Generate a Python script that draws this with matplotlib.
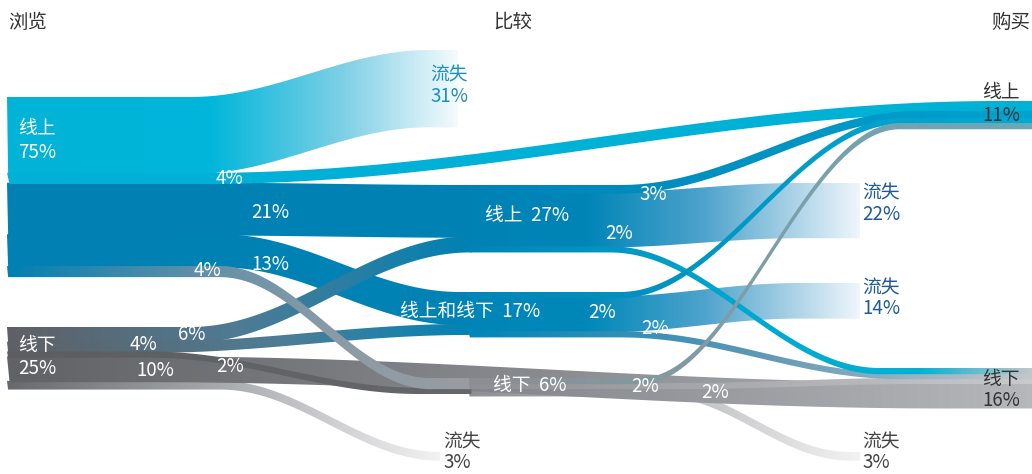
import numpy as np
import matplotlib.pyplot as plt
from matplotlib.path import Path
from matplotlib.patches import PathPatch
from matplotlib.colors import LinearSegmentedColormap

plt.rcParams['font.family'] = ['Noto Sans CJK SC', 'DejaVu Sans']

# ---- data ----
stages = ['浏览', '比较', '购买']
browse_labels = ['线上', '线下']
browse_share = [75, 25]
compare_labels = ['线上', '线上和线下', '线下']
compare_share = [27, 17, 6]
buy_labels = ['线上', '线下']
buy_share = [11, 16]
lost_browse = [31, 3]
lost_compare = [22, 14, 3]

# flows: B=浏览, C=比较, P=购买, L=流失(浏览后), M=流失(比较后)
flow_src = ['B0', 'B0', 'B0', 'B0', 'B0', 'B1', 'B1', 'B1', 'B1', 'B1',
            'C0', 'C0', 'C0', 'C1', 'C1', 'C1', 'C2', 'C2', 'C2']
flow_dst = ['L0', 'P0', 'C0', 'C1', 'C2', 'C0', 'C1', 'C2', 'P1', 'L1',
            'P0', 'M0', 'P1', 'P0', 'M1', 'P1', 'P0', 'P1', 'M2']
flow_val = [31, 4, 21, 13, 4, 6, 4, 2, 10, 3,
            3, 22, 2, 2, 14, 2, 2, 2, 3]

# ---- layout ----
k = 2.45  # px per percent
node_x = {'B0': 7, 'B1': 7, 'C0': 470, 'C1': 470, 'C2': 470,
          'P0': 1032, 'P1': 1032, 'L0': 458, 'L1': 440,
          'M0': 860, 'M1': 860, 'M2': 860}
node_top = {'B0': 97, 'B1': 327, 'C0': 185, 'C1': 292, 'C2': 378,
            'P0': 101, 'P1': 368, 'L0': 50, 'L1': 452,
            'M0': 183, 'M1': 283, 'M2': 452}
in_order = {'P0': [1, 10, 13, 16], 'P1': [12, 15, 17, 8]}

bends = [(190, 430), (200, 1000), (200, 470), (220, 460), (220, 430),
         (190, 470), (150, 470), (150, 420), (150, 950), (220, 440),
         (620, 920), (600, 800), (610, 880), (620, 900), (600, 800),
         (620, 900), (640, 900), (680, 920), (660, 850)]

stops = [
    [(0, '#00b3d7'), (0.45, '#00b6da'), (0.75, '#80d0e6'), (1, '#f4fbfd')],
    [(0, '#00b0d6'), (1, '#00b2d6')],
    [(0, '#0080b3'), (1, '#0082b4')],
    [(0, '#0080b3'), (1, '#0083b5')],
    [(0, '#0080b3'), (0.4, '#5f8fa8'), (0.7, '#8a9ba6'), (1, '#9a9ca1')],
    [(0, '#5f6065'), (0.5, '#4e7b94'), (1, '#0081b4')],
    [(0, '#5f6065'), (0.6, '#4e7d96'), (1, '#0084b6')],
    [(0, '#5d5d61'), (1, '#66676b')],
    [(0, '#616266'), (0.5, '#88898e'), (1, '#b6b7bb')],
    [(0, '#68696d'), (0.5, '#a9aaae'), (1, '#f2f2f3')],
    [(0, '#0082b5'), (1, '#00a3cf')],
    [(0, '#0082b5'), (0.3, '#0085b7'), (0.6, '#4ea3cc'), (1, '#f0f6fb')],
    [(0, '#0084b6'), (0.5, '#00a8d0'), (0.8, '#00b2d3'), (1, '#c3c7ca')],
    [(0, '#0086b8'), (1, '#00acd4')],
    [(0, '#0085b7'), (0.3, '#0088b9'), (0.6, '#4ea3cc'), (1, '#f0f6fb')],
    [(0, '#0086b8'), (0.5, '#5b97b5'), (1, '#c5c7ca')],
    [(0, '#8c8d92'), (0.5, '#7f9ea8'), (1, '#69a9ba')],
    [(0, '#8e8f94'), (1, '#c9cacd')],
    [(0, '#8e8f94'), (0.5, '#b9babd'), (1, '#f3f3f3')],
]

draw_order = [0, 9, 11, 14, 18, 8, 2, 3, 1, 10, 5, 6, 7, 4, 17, 15, 12, 13, 16]

# stack flows in nodes
y_out, y_in = {}, {}
for node in set(flow_src):
    y = node_top[node]
    for i, s in enumerate(flow_src):
        if s == node:
            y_out[i] = y
            y += flow_val[i] * k
for node in set(flow_dst):
    idxs = in_order.get(node, [i for i, d in enumerate(flow_dst) if d == node])
    y = node_top[node]
    for i in idxs:
        y_in[i] = y
        y += flow_val[i] * k

fig = plt.figure(figsize=(10.32, 4.74), dpi=100)
ax = fig.add_axes([0, 0, 1, 1])

for i in draw_order:
    x0, x1 = node_x[flow_src[i]], node_x[flow_dst[i]]
    # small overlap so neighbouring bands don't leave hairline gaps
    if flow_src[i][0] == 'C':
        x0 -= 1.5
    if flow_dst[i][0] == 'C':
        x1 += 1.5
    xa, xb = bends[i]
    xs = np.linspace(x0, x1, 400)
    t = np.clip((xs - xa) / (xb - xa), 0, 1)
    s = (1 - np.cos(np.pi * t)) / 2
    top = y_out[i] + (y_in[i] - y_out[i]) * s
    bot = top + flow_val[i] * k + 1.3
    verts = np.vstack([np.column_stack([xs, top]),
                       np.column_stack([xs[::-1], bot[::-1]])])
    patch = PathPatch(Path(verts, closed=True), facecolor='none',
                      edgecolor='none')
    ax.add_patch(patch)
    cmap = LinearSegmentedColormap.from_list('f%d' % i, stops[i])
    grad = np.linspace(0, 1, 256).reshape(1, -1)
    im = ax.imshow(grad, cmap=cmap, aspect='auto', interpolation='bilinear',
                   extent=(x0, x1, bot.max() + 1, top.min() - 1))
    im.set_clip_path(patch)

ax.set_xlim(0, 1032)
ax.set_ylim(474, 0)
ax.axis('off')

fs = 13.5
# headers
ax.text(8, 22, stages[0], fontsize=14, color='#333333', ha='left', va='center')
ax.text(513, 22, stages[1], fontsize=14, color='#333333', ha='center', va='center')
ax.text(1030, 22, stages[2], fontsize=14, color='#333333', ha='right', va='center')

# browse nodes
ax.text(18, 128, browse_labels[0], fontsize=fs, color='white', va='center')
ax.text(18, 152, f'{browse_share[0]}%', fontsize=fs, color='white', va='center')
ax.text(18, 346, browse_labels[1], fontsize=fs, color='white', va='center')
ax.text(18, 369, f'{browse_share[1]}%', fontsize=fs, color='white', va='center')

# compare nodes
ax.text(527, 216, f'{compare_labels[0]}  {compare_share[0]}%', fontsize=fs,
        color='white', ha='center', va='center')
ax.text(470, 312, f'{compare_labels[1]}  {compare_share[1]}%', fontsize=fs,
        color='white', ha='center', va='center')
ax.text(530, 385, f'{compare_labels[2]}  {compare_share[2]}%', fontsize=fs,
        color='white', ha='center', va='center')

# buy nodes
ax.text(1020, 92, buy_labels[0], fontsize=fs, color='#333333', ha='right', va='center')
ax.text(1020, 115, f'{buy_share[0]}%', fontsize=fs, color='#333333', ha='right', va='center')
ax.text(1020, 380, buy_labels[1], fontsize=fs, color='#333333', ha='right', va='center')
ax.text(1020, 401, f'{buy_share[1]}%', fontsize=fs, color='#333333', ha='right', va='center')

# lost labels
lost_pos = [(430, 75, '#1e8fc3'), (443, 442, '#444444')]
for (x, y, c), v in zip(lost_pos, lost_browse):
    ax.text(x, y, '流失', fontsize=fs, color=c, va='center')
    ax.text(x, y + 21, f'{v}%', fontsize=fs, color=c, va='center')
lost_pos2 = [(862, 193, '#1d5a9a'), (862, 288, '#1d5a9a'), (862, 442, '#444444')]
for (x, y, c), v in zip(lost_pos2, lost_compare):
    ax.text(x, y, '流失', fontsize=fs, color=c, va='center')
    ax.text(x, y + 21, f'{v}%', fontsize=fs, color=c, va='center')

# flow value labels
flow_label_pos = {1: (230, 178), 2: (270, 212), 3: (270, 265), 4: (208, 271),
                  5: (192, 335), 6: (143, 345), 8: (155, 370), 7: (230, 366),
                  10: (653, 194), 12: (619, 233), 13: (602, 312),
                  15: (655, 328), 16: (645, 387), 17: (715, 393)}
for i, (x, y) in flow_label_pos.items():
    ax.text(x, y, f'{flow_val[i]}%', fontsize=fs, color='white',
            ha='center', va='center')

fig.savefig('out.png', dpi=100)
